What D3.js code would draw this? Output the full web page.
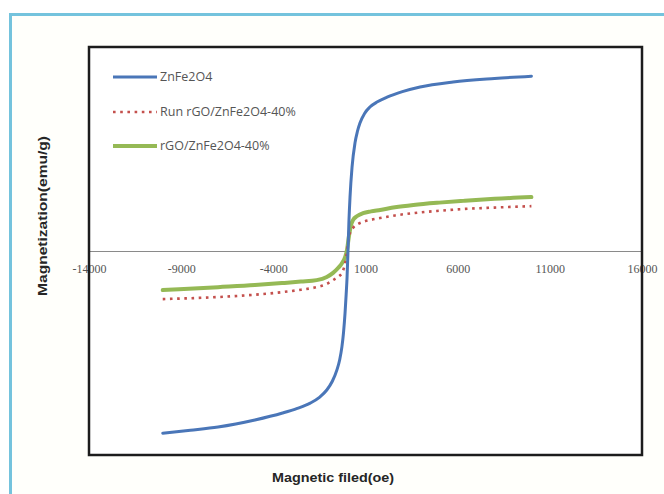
<!DOCTYPE html>
<html>
<head>
<meta charset="utf-8">
<script src="https://cdn.jsdelivr.net/npm/d3@7"></script>
<style>
  html, body { margin: 0; padding: 0; background: #ffffff; }
  svg { display: block; }
</style>
</head>
<body>
<svg id="chart" width="664" height="494"></svg>
<script>
// ---- data ----
const xTickValues = [-14000, -9000, -4000, 1000, 6000, 11000, 16000];
const seriesNames = ["ZnFe2O4", "Run rGO/ZnFe2O4-40%", "rGO/ZnFe2O4-40%"];

const fieldZn = [-10000, -8500, -7000, -5000, -3500, -2700, -2000, -1500, -1100, -800, -550, -400, -280, -190, -110, -50, 0, 50, 100, 160, 270, 430, 560, 700, 950, 1240, 1650, 2170, 3000, 3960, 5750, 8000, 10000];
const magZn   = [-62.5, -61.5, -60.4, -58.0, -55.6, -54.0, -52.2, -50.2, -47.7, -44.7, -40.8, -37.3, -32.9, -27.8, -21.3, -15.0, -9.0, 0, 10.0, 18.5, 28.8, 37.1, 41.0, 43.9, 47.2, 49.4, 51.2, 52.8, 54.7, 56.3, 58.0, 59.2, 60.0];

const fieldRun = [-10000, -7000, -5000, -3500, -2500, -1650, -1100, -760, -450, -270, -100, 0, 60, 160, 320, 550, 870, 1300, 1790, 2600, 3580, 5000, 6290, 8000, 10000];
const magRun   = [-16.5, -15.8, -15.0, -14.1, -13.3, -12.4, -11.3, -10.0, -8.7, -7.5, -4.0, 0, 3.0, 6.2, 7.9, 9.1, 10.0, 10.7, 11.3, 12.2, 13.0, 13.8, 14.4, 14.9, 15.4];

const fieldGo = [-10000, -7000, -5000, -3500, -2500, -1650, -1100, -760, -450, -270, -100, 0, 100, 200, 320, 550, 870, 1300, 1800, 2600, 3600, 5000, 6300, 8000, 10000];
const magGo   = [-13.4, -12.4, -11.7, -11.0, -10.5, -10.0, -8.9, -7.5, -5.6, -4.1, -2.0, 0.5, 5.0, 8.6, 10.6, 12.0, 13.0, 13.6, 14.1, 15.0, 15.8, 16.6, 17.2, 17.9, 18.5];

const xDomain = [-14000, 16000];
const yDomain = [-70, 70];

// ---- layout ----
const svg = d3.select("#chart");
const box = { left: 89, right: 642, top: 47, bottom: 455 };

// outer chart frame
svg.append("rect")
  .attr("x", 10.5).attr("y", 14.5)
  .attr("width", 700).attr("height", 520)
  .attr("fill", "#fffffb")
  .attr("stroke", "#74c3dd")
  .attr("stroke-width", 3);

const x = d3.scaleLinear().domain(xDomain).range([box.left, box.right]);
const y = d3.scaleLinear().domain(yDomain).range([box.bottom, box.top]);

// plot area
svg.append("rect")
  .attr("x", box.left).attr("y", box.top)
  .attr("width", box.right - box.left).attr("height", box.bottom - box.top)
  .attr("fill", "#ffffff");

// x axis at y = 0
const xAxis = d3.axisBottom(x)
  .tickValues(xTickValues)
  .tickSize(0)
  .tickPadding(13)
  .tickFormat(d => String(d));
const gx = svg.append("g")
  .attr("transform", `translate(0,${y(0)})`)
  .call(xAxis);
gx.select(".domain").attr("stroke", "#8a8a8a").attr("stroke-width", 1);
gx.selectAll("text")
  .attr("font-family", "'Liberation Serif', 'Times New Roman', serif")
  .attr("font-size", 12)
  .attr("fill", "#555555");

// series
const line = d3.line()
  .x(d => x(d[0]))
  .y(d => y(d[1]))
  .curve(d3.curveMonotoneX);

const dataGo = fieldGo.map((h, i) => [h, magGo[i]]);
const dataRun = fieldRun.map((h, i) => [h, magRun[i]]);
const dataZn = fieldZn.map((h, i) => [h, magZn[i]]);

const styles = [
  { color: "#4a76b8", width: 3, dash: null },
  { color: "#c4504d", width: 2.6, dash: "2.6,4.6" },
  { color: "#95b955", width: 4, dash: null }
];

svg.append("path").datum(dataGo)
  .attr("d", line).attr("fill", "none")
  .attr("stroke", styles[2].color).attr("stroke-width", styles[2].width)
  .attr("stroke-linecap", "round");
svg.append("path").datum(dataRun)
  .attr("d", line).attr("fill", "none")
  .attr("stroke", styles[1].color).attr("stroke-width", styles[1].width)
  .attr("stroke-dasharray", styles[1].dash);
svg.append("path").datum(dataZn)
  .attr("d", line).attr("fill", "none")
  .attr("stroke", styles[0].color).attr("stroke-width", styles[0].width)
  .attr("stroke-linecap", "round");

// plot area border
svg.append("rect")
  .attr("x", box.left).attr("y", box.top)
  .attr("width", box.right - box.left).attr("height", box.bottom - box.top)
  .attr("fill", "none")
  .attr("stroke", "#1c1c1c")
  .attr("stroke-width", 2.5);

// legend
const legendY = [77, 112, 146];
const lg = svg.append("g");
seriesNames.forEach((name, i) => {
  const s = styles[i];
  lg.append("line")
    .attr("x1", 113).attr("x2", 157)
    .attr("y1", legendY[i]).attr("y2", legendY[i])
    .attr("stroke", s.color)
    .attr("stroke-width", s.width)
    .attr("stroke-dasharray", s.dash);
  lg.append("text")
    .attr("x", 160).attr("y", legendY[i])
    .attr("dy", "0.35em")
    .attr("font-family", "'Open Sans', sans-serif")
    .attr("font-size", 12.5)
    .attr("fill", "#555555")
    .text(name);
});

// axis titles
svg.append("text")
  .attr("x", 333).attr("y", 482)
  .attr("text-anchor", "middle")
  .attr("font-family", "'Liberation Sans', Arial, sans-serif")
  .attr("font-weight", "bold")
  .attr("font-size", 12)
  .attr("textLength", 122)
  .attr("lengthAdjust", "spacingAndGlyphs")
  .attr("fill", "#262626")
  .text("Magnetic filed(oe)");

svg.append("text")
  .attr("transform", "translate(47,216) rotate(-90)")
  .attr("text-anchor", "middle")
  .attr("font-family", "'Liberation Sans', Arial, sans-serif")
  .attr("font-weight", "bold")
  .attr("font-size", 12)
  .attr("textLength", 160)
  .attr("lengthAdjust", "spacingAndGlyphs")
  .attr("fill", "#262626")
  .text("Magnetization(emu/g)");
</script>
</body>
</html>
